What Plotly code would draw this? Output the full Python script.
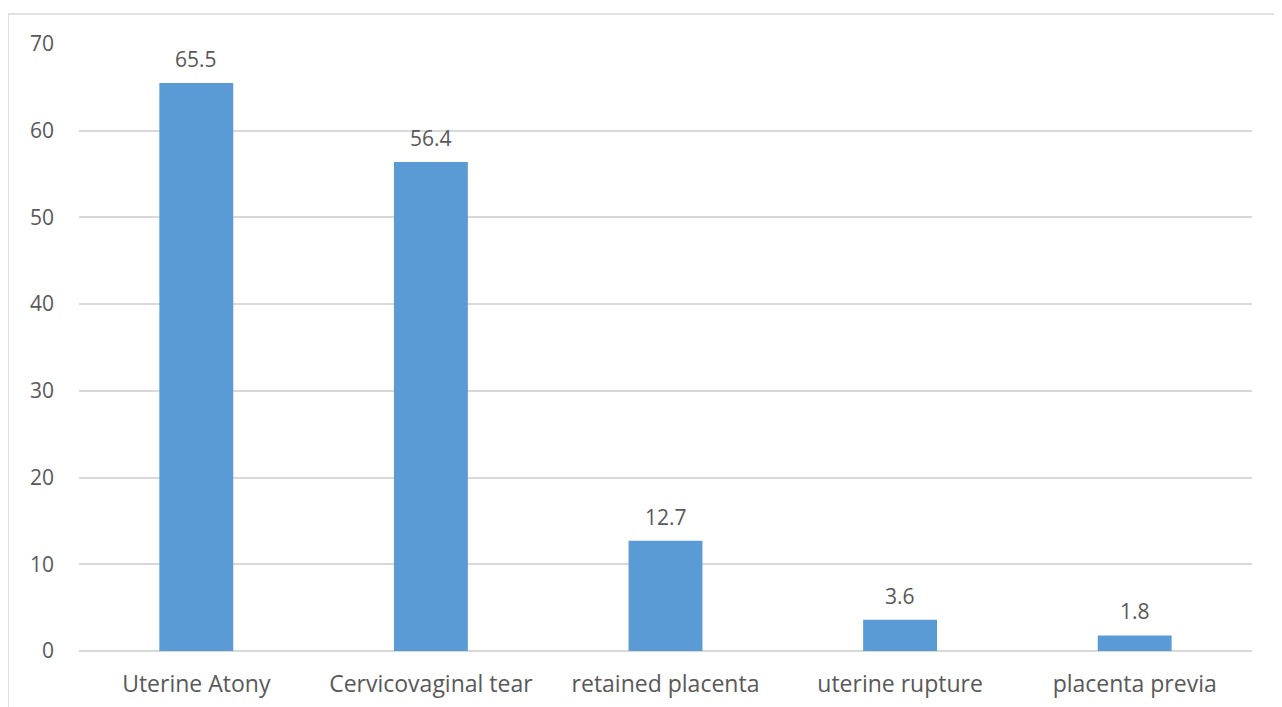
import plotly.graph_objects as go

categories = ["Uterine Atony", "Cervicovaginal tear", "retained placenta", "uterine rupture", "placenta previa"]
values = [65.5, 56.4, 12.7, 3.6, 1.8]
y_ticks = [0, 10, 20, 30, 40, 50, 60, 70]

FONT = "Open Sans"
TXT = "#595959"
GRID = "#D9D9D9"
FS = 21

fig = go.Figure()
fig.add_trace(go.Bar(x=categories, y=values, marker=dict(color="#5B9BD5", line=dict(width=0)),
                     hoverinfo="skip"))

for c, v in zip(categories, values):
    fig.add_annotation(x=c, y=v, text=f"{v}", showarrow=False, yshift=24, yanchor="middle",
                       font=dict(family=FONT, size=FS, color=TXT))

fig.add_shape(type="rect", xref="paper", yref="paper", x0=-0.0605, x1=1.022, y0=-0.3, y1=1.0494,
              line=dict(color=GRID, width=1.5), fillcolor="rgba(0,0,0,0)", layer="below")

fig.update_layout(
    width=1282, height=707,
    margin=dict(l=71, r=38, t=36, b=64),
    plot_bgcolor="white", paper_bgcolor="white",
    bargap=0.685,
    showlegend=False,
    font=dict(family=FONT, size=FS, color=TXT),
    xaxis=dict(showgrid=False, showline=False, ticks="", ticklabelstandoff=17,
               tickfont=dict(size=23, color=TXT)),
    yaxis=dict(range=[0, 70], tickvals=y_ticks, showgrid=True, gridcolor=GRID, gridwidth=2,
               zeroline=True, zerolinecolor=GRID, zerolinewidth=2, showline=False, ticks="",
               ticklabelstandoff=24, tickfont=dict(size=FS, color=TXT)),
)

fig.write_html("out.html")
